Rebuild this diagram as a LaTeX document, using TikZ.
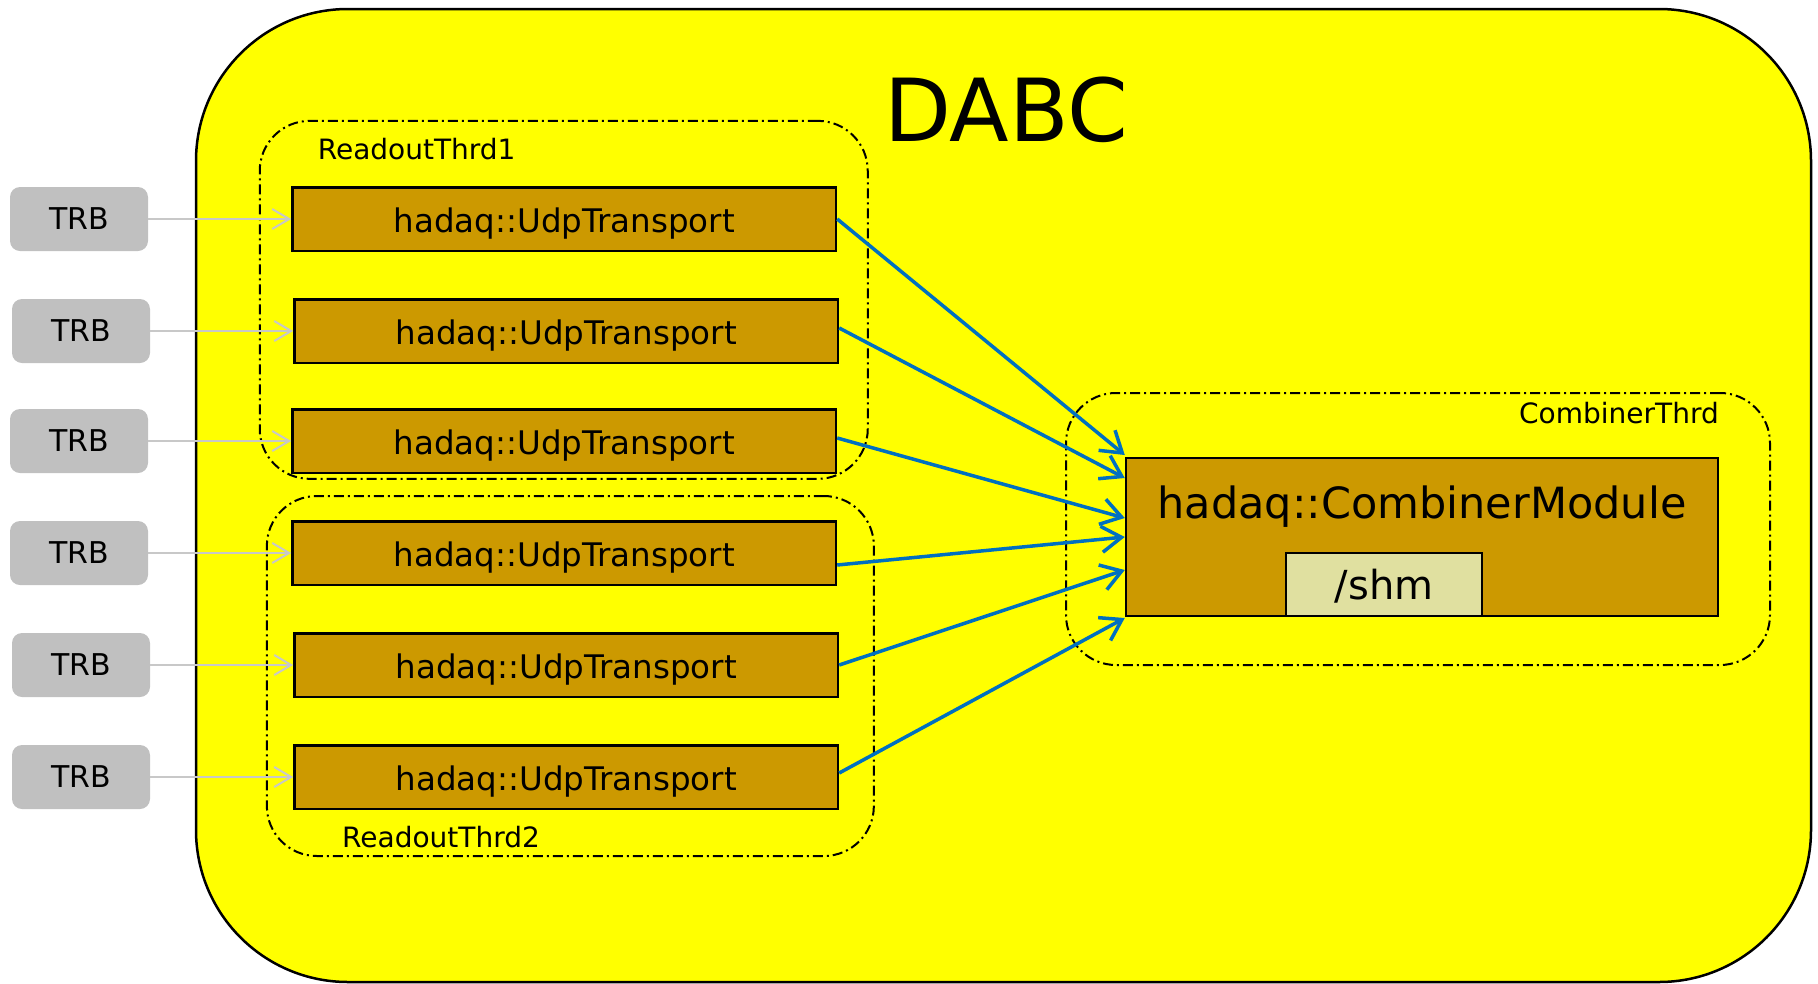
\documentclass[tikz,border=0pt]{standalone}
\usepackage{fontspec}
\setmainfont{DejaVu Sans}
\usepackage{tikz}
\usetikzlibrary{arrows.meta,positioning}
\definecolor{dabcyellow}{RGB}{255,255,0}
\definecolor{modbrown}{RGB}{204,153,0}
\definecolor{shmkhaki}{RGB}{224,224,160}
\definecolor{trbgray}{RGB}{192,192,192}
\definecolor{feedgray}{RGB}{200,200,200}
\definecolor{datablue}{RGB}{0,112,192}
\newcommand{\fsz}[1]{\fontsize{#1}{#1}\selectfont}

\begin{document}
\begin{tikzpicture}[
  x=1pt, y=-1pt, node distance=143pt,
  frame/.style={draw, line width=2.5pt, fill=dabcyellow, rounded corners=152pt,
                minimum width=1615pt, minimum height=973pt},
  thrd/.style ={draw, line width=2pt, rounded corners=50pt,
                dash pattern=on 10pt off 4pt on 2pt off 4pt},
  thrdlbl/.style={font=\fsz{28}, inner sep=0pt},
  trb/.style  ={fill=trbgray, rounded corners=10pt, minimum width=138pt,
                minimum height=64pt, inner sep=0pt, font=\fsz{30}},
  udp/.style  ={draw, line width=2.5pt, fill=modbrown, minimum width=543.5pt,
                minimum height=63.5pt, inner sep=0pt, font=\fsz{32.5},
                text height=26pt, text depth=0pt},
  modbox/.style={draw, line width=2.5pt, fill=modbrown, minimum width=592pt,
                minimum height=158pt, inner sep=0pt},
  shmbox/.style={draw, line width=2pt, fill=shmkhaki, minimum width=196pt,
                minimum height=63pt, inner sep=0pt, font=\fsz{40},
                text height=29pt, text depth=0pt},
  feed/.style ={draw=feedgray, line width=2pt, -{Straight Barb[length=17pt,width=20pt]}},
  data/.style ={draw=datablue, line width=3.5pt, -{Straight Barb[length=20pt,width=26pt]}}]
\useasboundingbox (0,0) rectangle (1818,983);
% outer DABC process
\node[frame] (dabc) at (1003.5,495.5) {};
\node[font=\fsz{87}, inner sep=0pt, anchor=base] (dabcname) at (1006,141) {DABC};
% threads
\node[thrd, minimum width=608pt, minimum height=358pt] (rt1) at (563.75,299.85) {};
\node[thrd, minimum width=607pt, minimum height=360pt] (rt2) at (570.35,676) {};
\node[thrd, minimum width=704pt, minimum height=272pt] (ct)  at (1418,529) {};
\node[thrdlbl, anchor=base west] (rt1lbl) at (317.6,159) {ReadoutThrd1};
\node[thrdlbl, anchor=base west] (rt2lbl) at (342,847) {ReadoutThrd2};
\node[thrdlbl, anchor=base east] (ctlbl)  at (1719,423) {CombinerThrd};
% inputs
\node[trb] (trb1) at (79,219) {TRB};
\node[trb] (trb2) at (81,331) {TRB};
\node[trb] (trb3) at (79,441) {TRB};
\node[trb] (trb4) at (79,553) {TRB};
\node[trb] (trb5) at (81,665) {TRB};
\node[trb] (trb6) at (81,777) {TRB};
\node[udp, right=of trb1] (udp1) {hadaq::UdpTransport};
\node[udp, right=of trb2] (udp2) {hadaq::UdpTransport};
\node[udp, right=of trb3] (udp3) {hadaq::UdpTransport};
\node[udp, right=of trb4] (udp4) {hadaq::UdpTransport};
\node[udp, right=of trb5] (udp5) {hadaq::UdpTransport};
\node[udp, right=of trb6] (udp6) {hadaq::UdpTransport};
% combiner
\node[modbox] (comb) at (1422,537) {};
\node[font=\fsz{43}, inner sep=0pt, anchor=base] (combname) at ([yshift=19pt]comb.center) {hadaq::CombinerModule};
\node[shmbox, above=0pt of comb.south, xshift=-38pt] (shm) {/shm};
% connections
\draw[feed] (trb1) -- (udp1);
\draw[feed] (trb2) -- (udp2);
\draw[feed] (trb3) -- (udp3);
\draw[feed] (trb4) -- (udp4);
\draw[feed] (trb5) -- (udp5);
\draw[feed] (trb6) -- (udp6);
\draw[data] (udp1.east) -- ([yshift=82pt]comb.west);
\draw[data] ([yshift=3pt]udp2.east) -- ([yshift=59pt]comb.west);
\draw[data] ([yshift=3pt]udp3.east) -- ([yshift=19pt]comb.west);
\draw[data] ([yshift=-12pt]udp4.east) -- (comb.west);
\draw[data] (udp5.east) -- ([yshift=-33pt]comb.west);
\draw[data] ([yshift=4pt]udp6.east) -- ([yshift=-81pt]comb.west);
\end{tikzpicture}
\end{document}
